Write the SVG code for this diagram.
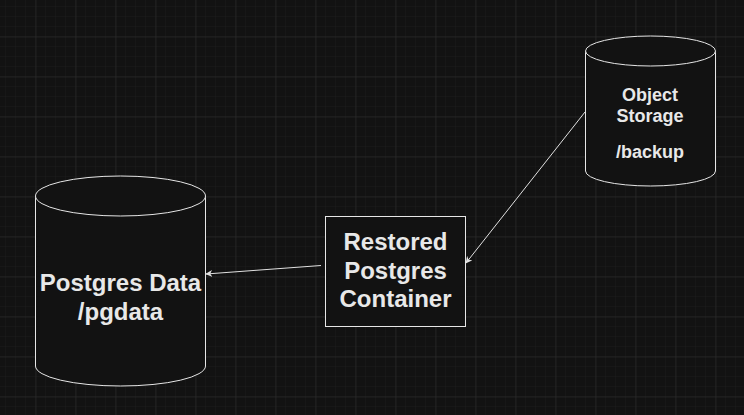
<svg xmlns="http://www.w3.org/2000/svg" width="744" height="415" viewBox="0 0 744 415">
<defs>
<pattern id="minor" width="10" height="10" patternUnits="userSpaceOnUse" x="5" y="6">
<path d="M0 0H10M0 0V10" fill="none" stroke="#1c1c1c" stroke-width="1"/>
</pattern>
<pattern id="major" width="40" height="40" patternUnits="userSpaceOnUse" x="35.5" y="36.5">
<path d="M0 0H40M0 0V40" fill="none" stroke="#2e2e2e" stroke-width="1"/>
</pattern>
<marker id="arr" viewBox="0 0 10 10" refX="9" refY="5" markerWidth="7" markerHeight="7" markerUnits="userSpaceOnUse" orient="auto">
<path d="M0 0L10 5L0 10L3 5Z" fill="#e0e0e0"/>
</marker>
<style>
.shape{fill:#121212;stroke:#e6e6e6;stroke-width:1}
.lbl{font-family:"Liberation Sans",Arial,sans-serif;font-weight:bold;fill:#e8e8e8;text-anchor:middle}
.big{font-size:24px}
.small{font-size:18px}
.edge{fill:none;stroke:#e0e0e0;stroke-width:1;marker-end:url(#arr)}
</style>
</defs>
<rect width="744" height="415" fill="#121212"/>
<rect width="744" height="415" fill="url(#minor)"/>
<rect width="744" height="415" fill="url(#major)"/>

<g id="connectors">
<path class="edge" d="M321 265.5L206 274"/>
<path class="edge" d="M585 112L466 263"/>
</g>

<g id="object-storage">
<path class="shape" d="M585.5 51A65 15 0 0 1 715.5 51V171A65 15 0 0 1 585.5 171Z"/>
<path class="shape" d="M585.5 51A65 15 0 0 0 715.5 51" fill="none"/>
<text class="lbl small" x="650" y="101">Object</text>
<text class="lbl small" x="650" y="122">Storage</text>
<text class="lbl small" x="650" y="158">/backup</text>
</g>

<g id="postgres-data">
<path class="shape" d="M35.5 196A85 20 0 0 1 205.5 196V366A85 20 0 0 1 35.5 366Z"/>
<path class="shape" d="M35.5 196A85 20 0 0 0 205.5 196" fill="none"/>
<text class="lbl big" x="120.5" y="291">Postgres Data</text>
<text class="lbl big" x="120.5" y="320">/pgdata</text>
</g>

<g id="restored-container">
<rect class="shape" x="325.5" y="216.5" width="140" height="110"/>
<text class="lbl big" x="395.5" y="250">Restored</text>
<text class="lbl big" x="395.5" y="279">Postgres</text>
<text class="lbl big" x="395.5" y="307">Container</text>
</g>
</svg>
